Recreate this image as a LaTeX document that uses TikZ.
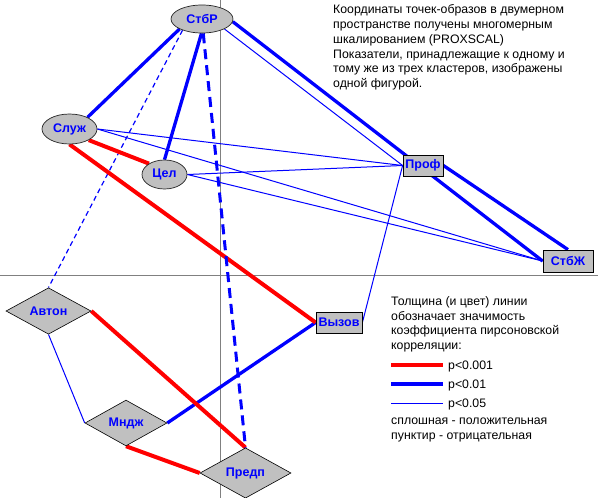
\documentclass[tikz,border=0pt]{standalone}
\usepackage{fontspec}
\setmainfont{Liberation Sans}
\usetikzlibrary{shapes.geometric}
\pgfdeclarelayer{bg}
\pgfsetlayers{bg,main}
\definecolor{nodegray}{RGB}{192,192,192}
\definecolor{axisgray}{RGB}{128,128,128}
\definecolor{pblue}{RGB}{0,0,255}
\definecolor{pred}{RGB}{255,0,0}
\begin{document}
\begin{tikzpicture}[x=1pt,y=-1pt,
  lbl/.style={font=\fontsize{12.5}{12.5}\selectfont\bfseries, text=pblue},
  ell/.style={ellipse, draw=black!85, line width=0.7pt, fill=nodegray, inner sep=0pt, lbl},
  box/.style={rectangle, draw=black, line width=0.8pt, fill=nodegray, inner sep=0pt, lbl},
  dia/.style={diamond, draw=black, line width=0.6pt, fill=nodegray, inner sep=0pt, lbl},
  sig1/.style={line width=4pt, pred},
  sig2/.style={line width=3.3pt, pblue},
  sig3/.style={line width=1pt, pblue},
  neg/.style={line width=3pt, dash pattern=on 10pt off 6pt},
  negthin/.style={line width=1.2pt, dash pattern=on 5pt off 3.5pt},
  txt/.style={font=\fontsize{12.3}{14.8}\selectfont, inner sep=0pt, align=left},
  axisline/.style={axisgray, line width=1pt}
]
\useasboundingbox (0,0) rectangle (598,498);

% nodes
\node[ell, minimum width=62pt, minimum height=28pt] (stbr) at (202,19) {СтбР};
\node[ell, minimum width=55pt, minimum height=30pt] (sluzh) at (69.5,129) {Служ};
\node[ell, minimum width=45pt, minimum height=29pt] (cel) at (164.5,174.5) {Цел};
\node[box, minimum width=40pt, minimum height=21pt] (prof) at (423,165.5) {Проф};
\node[box, minimum width=50pt, minimum height=22pt] (stbzh) at (568,261) {СтбЖ};
\node[box, minimum width=46pt, minimum height=21pt] (vyzov) at (339,322.5) {Вызов};
\node[dia, minimum width=85pt, minimum height=40pt] (avton) at (48.5,311) {Автон};
\node[dia, minimum width=82pt, minimum height=40pt] (mndzh) at (126,423) {Мндж};
\node[dia, minimum width=91pt, minimum height=40pt] (predp) at (245.5,473) {Предп};

\begin{pgfonlayer}{bg}
\fill[white] (0,0) rectangle (598,498);
\draw[axisline] (220,0) -- (220,498);
\draw[axisline] (0,275) -- (598,275);

\draw[sig3] (stbr.336) -- (prof.west);
\draw[sig3] (sluzh.east) -- (prof.west);
\draw[sig3] (sluzh.east) -- (stbzh.west);
\draw[sig3] (cel.east) -- (prof.west);
\draw[sig3] (cel.east) -- (stbzh.west);
\draw[sig3] (prof.west) -- (vyzov.east);
\draw[sig3] (avton.south) -- (mndzh.west);
\draw[sig3, negthin] (stbr.210) -- (avton.north);

\draw[sig2] (stbr.204) -- (sluzh.33);
\draw[sig2] (stbr.268) -- (cel.north);
\draw[sig2] (stbr.355) -- (stbzh.west);
\draw[sig2] (prof.east) -- (stbzh.north);
\draw[sig2] (mndzh.east) -- (vyzov.west);

\draw[sig1] (sluzh.330) -- (cel.145);
\draw[sig1] (sluzh.south) -- (vyzov.west);
\draw[sig1] (avton.east) -- (predp.north);
\draw[sig1] (mndzh.south) -- (predp.west);

\draw[sig2, neg] (stbr.275) -- (predp.north);
\end{pgfonlayer}

% explanatory text
\node[txt, anchor=north west] (note) at (333,4.5) {Координаты точек-образов в двумерном\\пространстве получены многомерным\\шкалированием (PROXSCAL)\\Показатели, принадлежащие к одному и\\тому же из трех кластеров, изображены\\одной фигурой.};

% legend
\node[txt, anchor=north west] (legtitle) at (391,296.2) {Толщина (и цвет) линии\\обозначает значимость\\коэффициента пирсоновской\\корреляции:};
\draw[sig1] (391,365) -- (443,365);
\draw[sig2] (391,384) -- (443,384);
\draw[sig3] (391,403) -- (443,403);
\node[txt, anchor=base west] (l1) at (448,369) {p<0.001};
\node[txt, anchor=base west] (l2) at (448,388) {p<0.01};
\node[txt, anchor=base west] (l3) at (448,407.5) {p<0.05};
\node[txt, anchor=north west] (legsign) at (391,417.8) {сплошная - положительная\\пунктир - отрицательная};
\end{tikzpicture}
\end{document}
